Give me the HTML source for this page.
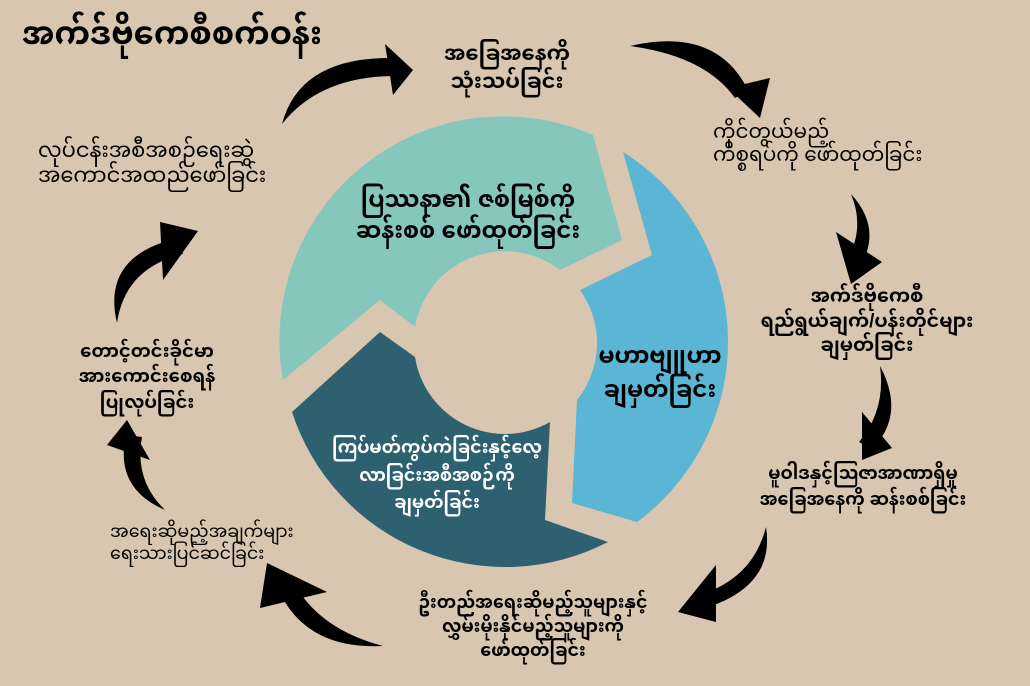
<!DOCTYPE html>
<html><head><meta charset="utf-8"><style>
html,body{margin:0;padding:0;background:#d8c6b0;}
svg{display:block;}
text{font-family:"Liberation Sans","Noto Sans Myanmar","Padauk","Myanmar Text",sans-serif;fill:#000;}
.b{font-weight:bold;}
</style></head><body>
<svg width="1030" height="686" viewBox="0 0 1030 686" xmlns="http://www.w3.org/2000/svg">
<rect width="1030" height="686" fill="#d8c6b0"/>
<path d="M283,380 A224,224 0 0 1 593,135 L622,240 L560,270 A91,91 0 0 0 415,327 L380,300 Z" fill="#85c7bd"/>
<path d="M623,152 A224,224 0 0 1 637,522 L572,503 L577,400 A91,91 0 0 0 580,290 L652,255 Z" fill="#5ab6d4"/>
<path d="M608,542 A224,224 0 0 1 292,412 L380,332 L415,357 A91,91 0 0 0 550,422 L545,520 Z" fill="#2e6170"/>

<g fill="#000" stroke="none">
<path d="M282,124 Q300,56 395,58 L396,76 Q320,76 282,124 Z"/>
<polygon points="413,70 385,44 393,95"/>
<path d="M630,46 Q716,26 748,90 L735,98 Q705,56 630,46 Z"/>
<polygon points="760,118 728,88 770,78"/>
<path d="M851,194 Q884,230 858,270 L845,263 Q866,230 851,194 Z"/>
<polygon points="851,284 836,232 882,262"/>
<path d="M880,366 Q906,415 872,449 L859,442 Q886,410 880,366 Z"/>
<polygon points="862,460 862,412 892,448"/>
<path d="M766,527 Q776,590 695,611 L692,597 Q752,582 766,527 Z"/>
<polygon points="678,612 716,565 716,622"/>
<path d="M383,646 Q302,650 276,584 L291,577 Q315,628 383,646 Z"/>
<polygon points="267,563 260,608 327,592"/>
<path d="M165,510 Q114,488 126,435 L142,437 Q134,480 165,510 Z"/>
<polygon points="127,420 107,445 150,460"/>
<path d="M117,323 Q101,256 178,238 L183,254 Q125,268 117,323 Z"/>
<polygon points="198,231 160,222 163,280"/>
</g>

<text x="22" y="44" class="b" font-size="32">အက်ဒ်ဗိုကေစီစက်ဝန်း</text>

<g text-anchor="middle">
<text x="507" y="60" class="b" font-size="21">အခြေအနေကို</text>
<text x="507" y="88" class="b" font-size="21">သုံးသပ်ခြင်း</text>

<text x="867" y="302" class="b" font-size="19">အက်ဒ်ဗိုကေစီ</text>
<text x="867" y="327" class="b" font-size="19">ရည်ရွယ်ချက်/ပန်းတိုင်များ</text>
<text x="867" y="351" class="b" font-size="19">ချမှတ်ခြင်း</text>

<text x="863" y="479" class="b" font-size="17.5">မူဝါဒနှင့်သြဇာအာဏာရှိမှု</text>
<text x="863" y="505" class="b" font-size="17.5">အခြေအနေကို ဆန်းစစ်ခြင်း</text>

<text x="533" y="608" class="b" font-size="17.5">ဦးတည်အရေးဆိုမည့်သူများနှင့်</text>
<text x="533" y="632" class="b" font-size="17.5">လွှမ်းမိုးနိုင်မည့်သူများကို</text>
<text x="533" y="656" class="b" font-size="17.5">ဖော်ထုတ်ခြင်း</text>

<text x="147" y="357" class="b" font-size="18">တောင့်တင်းခိုင်မာ</text>
<text x="147" y="382" class="b" font-size="18">အားကောင်းစေရန်</text>
<text x="147" y="408" class="b" font-size="18">ပြုလုပ်ခြင်း</text>
</g>

<text x="713" y="138" font-size="20">ကိုင်တွယ်မည့်</text>
<text x="713" y="161" font-size="20">ကိစ္စရပ်ကို ဖော်ထုတ်ခြင်း</text>

<text x="110" y="537" font-size="17.5">အရေးဆိုမည့်အချက်များ</text>
<text x="110" y="559" font-size="17.5">ရေးသားပြင်ဆင်ခြင်း</text>

<text x="38" y="157" font-size="21">လုပ်ငန်းအစီအစဉ်ရေးဆွဲ</text>
<text x="38" y="182" font-size="21">အကောင်အထည်ဖော်ခြင်း</text>

<g text-anchor="middle">
<text x="468" y="207" class="b" font-size="23">ပြဿနာ၏ ဇစ်မြစ်ကို</text>
<text x="468" y="238" class="b" font-size="23">ဆန်းစစ် ဖော်ထုတ်ခြင်း</text>
<text x="660" y="363" class="b" font-size="23">မဟာဗျူဟာ</text>
<text x="660" y="397" class="b" font-size="23">ချမှတ်ခြင်း</text>
<text x="437" y="453" class="b" font-size="17.5" style="fill:#fff">ကြပ်မတ်ကွပ်ကဲခြင်းနှင့်လေ့</text>
<text x="437" y="481" class="b" font-size="17.5" style="fill:#fff">လာခြင်းအစီအစဉ်ကို</text>
<text x="437" y="508" class="b" font-size="17.5" style="fill:#fff">ချမှတ်ခြင်း</text>
</g>
</svg>
</body></html>
